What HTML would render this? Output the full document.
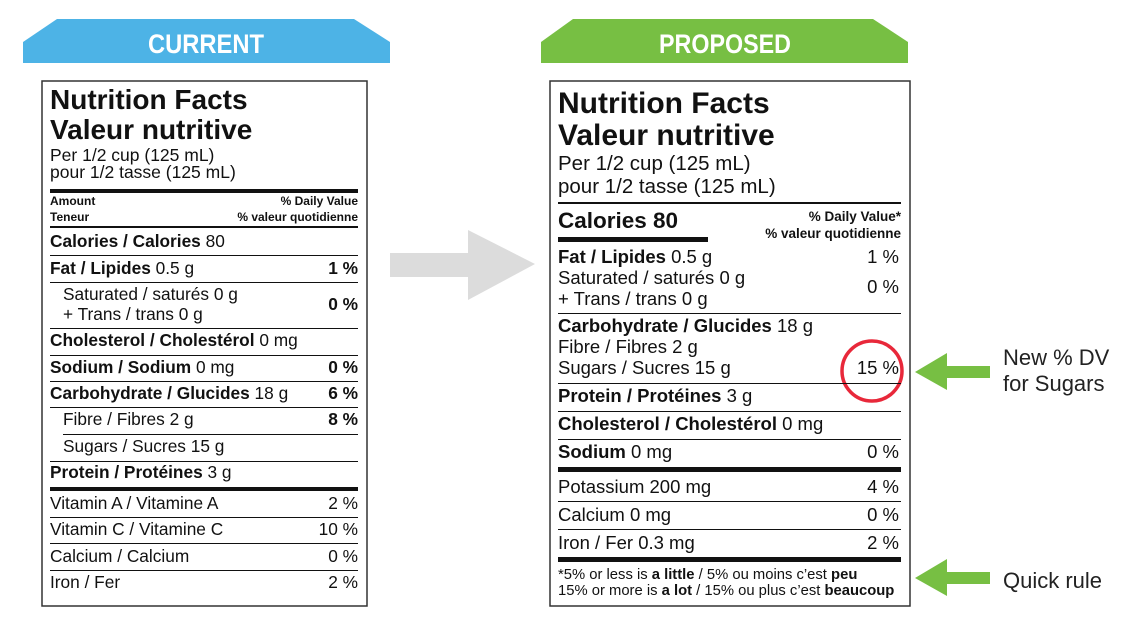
<!DOCTYPE html>
<html><head><meta charset="utf-8"><style>
body{margin:0;background:#fff;}
#root{position:relative;width:1140px;height:628px;overflow:hidden;font-family:"Liberation Sans",Arial,sans-serif;color:#111;}
.t{position:absolute;white-space:nowrap;line-height:1;}
.r{position:absolute;background:#111;}
.b{font-weight:bold;}
.c{font-size:17.3px;}
.p{font-size:18.5px;}
</style></head><body>
<div id="root">
<svg width="1140" height="628" style="position:absolute;left:0;top:0">
 <polygon points="57,19 354,19 390,42 390,63 23,63 23,42" fill="#4db3e6"/>
 <polygon points="573,19 873,19 908,42 908,63 541,63 541,42" fill="#77bf43"/>
 <text x="206" y="53" text-anchor="middle" font-family="Liberation Sans, sans-serif" font-weight="bold" font-size="27" fill="#fff" textLength="116" lengthAdjust="spacingAndGlyphs">CURRENT</text>
 <text x="725" y="53" text-anchor="middle" font-family="Liberation Sans, sans-serif" font-weight="bold" font-size="27" fill="#fff" textLength="132" lengthAdjust="spacingAndGlyphs">PROPOSED</text>
 <rect x="42" y="81" width="325" height="525" fill="#fff" stroke="#333" stroke-width="1.5"/>
 <rect x="550" y="81" width="360" height="525" fill="#fff" stroke="#333" stroke-width="1.5"/>
 <polygon points="390,253 468,253 468,230 535,264 468,300 468,277 390,277" fill="#dcdcdc"/>
 <polygon points="915,372 947,353 947,366 990,366 990,378 947,378 947,390" fill="#77bf43"/>
 <polygon points="915,578 947,559 947,572 990,572 990,584 947,584 947,596" fill="#77bf43"/>
 <circle cx="872" cy="371" r="30" fill="none" stroke="#e8283a" stroke-width="3.5"/>
</svg>

<!-- CURRENT -->
<div class="t b" style="left:50px;top:86px;font-size:28px">Nutrition Facts</div>
<div class="t b" style="left:50px;top:116px;font-size:28px">Valeur nutritive</div>
<div class="t" style="left:50px;top:147px;font-size:17.5px">Per 1/2 cup (125 mL)</div>
<div class="t" style="left:50px;top:164px;font-size:17.5px">pour 1/2 tasse (125 mL)</div>
<div class="r" style="left:50px;top:189px;width:308px;height:4px"></div>
<div class="t b" style="left:50px;top:195px;font-size:12px">Amount</div>
<div class="t b" style="left:50px;top:211px;font-size:12px">Teneur</div>
<div class="t b" style="right:782px;top:195px;font-size:12px">% Daily Value</div>
<div class="t b" style="right:782px;top:211px;font-size:12px">% valeur quotidienne</div>
<div class="r" style="left:50px;top:226px;width:308px;height:2px"></div>
<div class="t c" style="left:50px;top:233px"><b>Calories / Calories</b> 80</div>
<div class="r" style="left:50px;top:255px;width:308px;height:1px"></div>
<div class="t c" style="left:50px;top:260px"><b>Fat / Lipides</b> 0.5 g</div>
<div class="t b c" style="right:782px;top:260px">1 %</div>
<div class="r" style="left:50px;top:282px;width:308px;height:1px"></div>
<div class="t c" style="left:63px;top:286px">Saturated / saturés 0 g</div>
<div class="t c" style="left:63px;top:306px">+ Trans / trans 0 g</div>
<div class="t b c" style="right:782px;top:296px">0 %</div>
<div class="r" style="left:50px;top:328px;width:308px;height:1px"></div>
<div class="t c" style="left:50px;top:332px"><b>Cholesterol / Cholestérol</b> 0 mg</div>
<div class="r" style="left:50px;top:355px;width:308px;height:1px"></div>
<div class="t c" style="left:50px;top:359px"><b>Sodium / Sodium</b> 0 mg</div>
<div class="t b c" style="right:782px;top:359px">0 %</div>
<div class="r" style="left:50px;top:381px;width:308px;height:1px"></div>
<div class="t c" style="left:50px;top:385px"><b>Carbohydrate / Glucides</b> 18 g</div>
<div class="t b c" style="right:782px;top:385px">6 %</div>
<div class="r" style="left:50px;top:407px;width:308px;height:1px"></div>
<div class="t c" style="left:63px;top:411px">Fibre / Fibres 2 g</div>
<div class="t b c" style="right:782px;top:411px">8 %</div>
<div class="r" style="left:63px;top:434px;width:295px;height:1px"></div>
<div class="t c" style="left:63px;top:438px">Sugars / Sucres 15 g</div>
<div class="r" style="left:50px;top:461px;width:308px;height:1px"></div>
<div class="t c" style="left:50px;top:464px"><b>Protein / Protéines</b> 3 g</div>
<div class="r" style="left:50px;top:487px;width:308px;height:4px"></div>
<div class="t c" style="left:50px;top:495px">Vitamin A / Vitamine A</div>
<div class="t c" style="right:782px;top:495px">2 %</div>
<div class="r" style="left:50px;top:517px;width:308px;height:1px"></div>
<div class="t c" style="left:50px;top:521px">Vitamin C / Vitamine C</div>
<div class="t c" style="right:782px;top:521px">10 %</div>
<div class="r" style="left:50px;top:543px;width:308px;height:1px"></div>
<div class="t c" style="left:50px;top:548px">Calcium / Calcium</div>
<div class="t c" style="right:782px;top:548px">0 %</div>
<div class="r" style="left:50px;top:570px;width:308px;height:1px"></div>
<div class="t c" style="left:50px;top:574px">Iron / Fer</div>
<div class="t c" style="right:782px;top:574px">2 %</div>

<!-- PROPOSED -->
<div class="t b" style="left:558px;top:89px;font-size:30px">Nutrition Facts</div>
<div class="t b" style="left:558px;top:121px;font-size:30px">Valeur nutritive</div>
<div class="t" style="left:558px;top:154px;font-size:20.5px">Per 1/2 cup (125 mL)</div>
<div class="t" style="left:558px;top:177px;font-size:20.5px">pour 1/2 tasse (125 mL)</div>
<div class="r" style="left:558px;top:202px;width:343px;height:2px"></div>
<div class="t b" style="left:558px;top:210px;font-size:22.5px">Calories 80</div>
<div class="r" style="left:558px;top:237px;width:150px;height:5px"></div>
<div class="t b" style="right:239px;top:210px;font-size:13.5px">% Daily Value*</div>
<div class="t b" style="right:239px;top:227px;font-size:13.5px">% valeur quotidienne</div>
<div class="t p" style="left:558px;top:248px"><b>Fat / Lipides</b> 0.5 g</div>
<div class="t p" style="right:241px;top:248px">1 %</div>
<div class="t p" style="left:558px;top:269px">Saturated / saturés 0 g</div>
<div class="t p" style="left:558px;top:290px">+ Trans / trans 0 g</div>
<div class="t p" style="right:241px;top:278px">0 %</div>
<div class="r" style="left:558px;top:313px;width:343px;height:1px"></div>
<div class="t p" style="left:558px;top:317px"><b>Carbohydrate / Glucides</b> 18 g</div>
<div class="t p" style="left:558px;top:338px">Fibre / Fibres 2 g</div>
<div class="t p" style="left:558px;top:359px">Sugars / Sucres 15 g</div>
<div class="t p" style="right:241px;top:359px">15 %</div>
<div class="r" style="left:558px;top:383px;width:343px;height:1px"></div>
<div class="t p" style="left:558px;top:387px"><b>Protein / Protéines</b> 3 g</div>
<div class="r" style="left:558px;top:411px;width:343px;height:1px"></div>
<div class="t p" style="left:558px;top:415px"><b>Cholesterol / Cholestérol</b> 0 mg</div>
<div class="r" style="left:558px;top:439px;width:343px;height:1px"></div>
<div class="t p" style="left:558px;top:443px"><b>Sodium</b> 0 mg</div>
<div class="t p" style="right:241px;top:443px">0 %</div>
<div class="r" style="left:558px;top:467px;width:343px;height:5px"></div>
<div class="t p" style="left:558px;top:478px">Potassium 200 mg</div>
<div class="t p" style="right:241px;top:478px">4 %</div>
<div class="r" style="left:558px;top:501px;width:343px;height:1px"></div>
<div class="t p" style="left:558px;top:506px">Calcium 0 mg</div>
<div class="t p" style="right:241px;top:506px">0 %</div>
<div class="r" style="left:558px;top:529px;width:343px;height:1px"></div>
<div class="t p" style="left:558px;top:534px">Iron / Fer 0.3 mg</div>
<div class="t p" style="right:241px;top:534px">2 %</div>
<div class="r" style="left:558px;top:557px;width:343px;height:5px"></div>
<div class="t" style="left:558px;top:568px;font-size:14.8px">*5% or less is <b>a little</b> / 5% ou moins c’est <b>peu</b></div>
<div class="t" style="left:558px;top:584px;font-size:14.8px">15% or more is <b>a lot</b> / 15% ou plus c’est <b>beaucoup</b></div>

<!-- annotations -->
<div class="t" style="left:1003px;top:347px;font-size:22px;color:#222">New % DV</div>
<div class="t" style="left:1003px;top:373px;font-size:22px;color:#222">for Sugars</div>
<div class="t" style="left:1003px;top:570px;font-size:22px;color:#222">Quick rule</div>
</div>
</body></html>
